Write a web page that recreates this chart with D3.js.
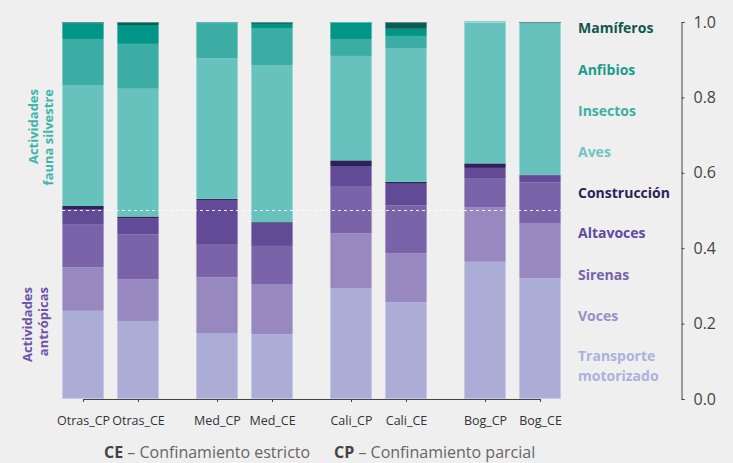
<!DOCTYPE html>
<html><head><meta charset="utf-8">
<script src="https://cdn.jsdelivr.net/npm/d3@7"></script>
<style>
html,body{margin:0;padding:0;background:#efefef;}
svg{display:block;font-family:"Open Sans",sans-serif;}
</style></head>
<body><svg id="c" width="733" height="463"></svg>
<script>
const categories = ["Otras_CP","Otras_CE","Med_CP","Med_CE","Cali_CP","Cali_CE","Bog_CP","Bog_CE"];
const groups = ["Otras","Med","Cali","Bog"];
const conditions = ["CP","CE"];
const transporte   = [0.234,0.207,0.175,0.172,0.294,0.257,0.364,0.320];
const voces        = [0.115,0.111,0.148,0.133,0.146,0.130,0.145,0.147];
const sirenas      = [0.115,0.119,0.086,0.101,0.125,0.127,0.077,0.107];
const altavoces    = [0.040,0.043,0.119,0.061,0.053,0.057,0.027,0.019];
const construccion = [0.008,0.004,0.003,0.002,0.015,0.005,0.012,0.002];
const aves         = [0.321,0.339,0.373,0.417,0.277,0.355,0.374,0.402];
const insectos     = [0.122,0.119,0.093,0.098,0.045,0.032,0.001,0.000];
const anfibios     = [0.042,0.050,0.003,0.011,0.045,0.019,0.001,0.000];
const mamiferos    = [0.003,0.008,0.000,0.005,0.000,0.018,0.000,0.003];
const seriesKeys  = ["transporte","voces","sirenas","altavoces","construccion","aves","insectos","anfibios","mamiferos"];
const seriesNames = ["Transporte\nmotorizado","Voces","Sirenas","Altavoces","Construcción","Aves","Insectos","Anfibios","Mamíferos"];
const yTicks = [0,0.2,0.4,0.6,0.8,1.0];

const seriesData = {transporte,voces,sirenas,altavoces,construccion,aves,insectos,anfibios,mamiferos};
const barColors = {transporte:"#abadd7",voces:"#9789c0",sirenas:"#7a63a9",altavoces:"#634a97",construccion:"#2c2458",aves:"#67c2bd",insectos:"#3cada5",anfibios:"#009587",mamiferos:"#0b5b50"};
const textColors = {transporte:"#adb1dd",voces:"#9a8ec8",sirenas:"#7663aa",altavoces:"#5e4a9e",construccion:"#2c2458",aves:"#6ec6c0",insectos:"#3cb0a5",anfibios:"#1a9c8c",mamiferos:"#10574c"};

const rows = categories.map((c,i)=>{const r={cat:c}; seriesKeys.forEach(k=>r[k]=seriesData[k][i]); return r;});
const stacked = d3.stack().keys(seriesKeys)(rows);

const svg = d3.select("#c");
const y = d3.scaleLinear().domain([0,1]).range([399,22]);
const xg = d3.scaleBand().domain(groups).range([43.5,579.5]).paddingInner(0.276).paddingOuter(0.138);
const xi = d3.scaleBand().domain(conditions).range([0,xg.bandwidth()]).paddingInner(0.236).paddingOuter(0);
const xPos = c => { const [g,k]=c.split("_"); return xg(g)+xi(k); };
const xCenter = d3.scaleOrdinal().domain(categories).range(categories.map(c=>xPos(c)+xi.bandwidth()/2));

// bars
svg.append("g").selectAll("g").data(stacked).join("g")
  .attr("fill",d=>barColors[d.key])
  .selectAll("rect").data(d=>d).join("rect")
  .attr("x",d=>xPos(d.data.cat))
  .attr("width",xi.bandwidth())
  .attr("y",d=>y(d[1]))
  .attr("height",d=>Math.max(0,y(d[0])-y(d[1])));
// faint outlines
svg.append("g").selectAll("rect").data(categories).join("rect")
  .attr("x",c=>xPos(c)+0.5).attr("width",xi.bandwidth()-1)
  .attr("y",y(1)+0.5).attr("height",y(0)-y(1)-1)
  .attr("fill","none").attr("stroke","#ffffff").attr("stroke-opacity",0.35);

// dashed 0.5 line
svg.append("line").attr("x1",xPos(categories[0])).attr("x2",xPos(categories[7])+xi.bandwidth())
  .attr("y1",y(0.5)).attr("y2",y(0.5))
  .attr("stroke","#ffffff").attr("stroke-width",1).attr("stroke-dasharray","3,3").attr("stroke-opacity",0.9);

// x axis
const gx = svg.append("g").attr("transform",`translate(0,${y(0)})`)
  .call(d3.axisBottom(xCenter).tickSize(3).tickSizeOuter(0).tickPadding(14));
gx.selectAll("path,line").attr("stroke","#444");
gx.selectAll("text").attr("font-size",12.5).attr("fill","#333").attr("font-family","'Open Sans',sans-serif");

// y axis right
const gy = svg.append("g").attr("transform","translate(681.5,0)")
  .call(d3.axisRight(y).tickValues(yTicks).tickFormat(d3.format(".1f")).tickSize(3).tickSizeOuter(3).tickPadding(9));
gy.selectAll("path,line").attr("stroke","#444");
gy.selectAll("text").attr("font-size",16).attr("fill","#444").attr("font-family","'Open Sans',sans-serif");

// legend labels
const legendY = {mamiferos:27.7,anfibios:70,insectos:111,aves:152,construccion:192.7,altavoces:233,sirenas:275,voces:316,transporte:356};
const lg = svg.append("g");
seriesKeys.forEach((k,i)=>{
  const lines = seriesNames[i].split("\n");
  const t = lg.append("text").attr("x",578).attr("y",legendY[k])
    .attr("font-size",14).attr("font-weight","bold").attr("fill",textColors[k]);
  lines.forEach((l,j)=>t.append("tspan").attr("x",578).attr("dy",j===0?"0.35em":"1.45em").text(l));
});

// left group labels
function groupLabel(lines,xs,yEnd,color){
  lines.forEach((l,j)=>{
    svg.append("text").attr("transform",`translate(${xs[j]},${yEnd}) rotate(-90)`)
      .attr("text-anchor","end").attr("dy","0.35em")
      .attr("font-size",13).attr("font-weight","bold").attr("fill",color).text(l);
  });
}
groupLabel(["Actividades","fauna silvestre"],[33,48.5],89,"#3fb6ab");
groupLabel(["Actividades","antrópicas"],[27,43],287,"#6b56a8");

// bottom caption
const cap = [{b:"CE",r:" – Confinamiento estricto",x:104},{b:"CP",r:" – Confinamiento parcial",x:334}];
cap.forEach(c=>{
  const t = svg.append("text").attr("x",c.x).attr("y",452).attr("dy","0.35em").attr("font-size",16);
  t.append("tspan").attr("font-weight","bold").attr("fill","#444").text(c.b);
  t.append("tspan").attr("fill","#666").text(c.r);
});
</script></body></html>
